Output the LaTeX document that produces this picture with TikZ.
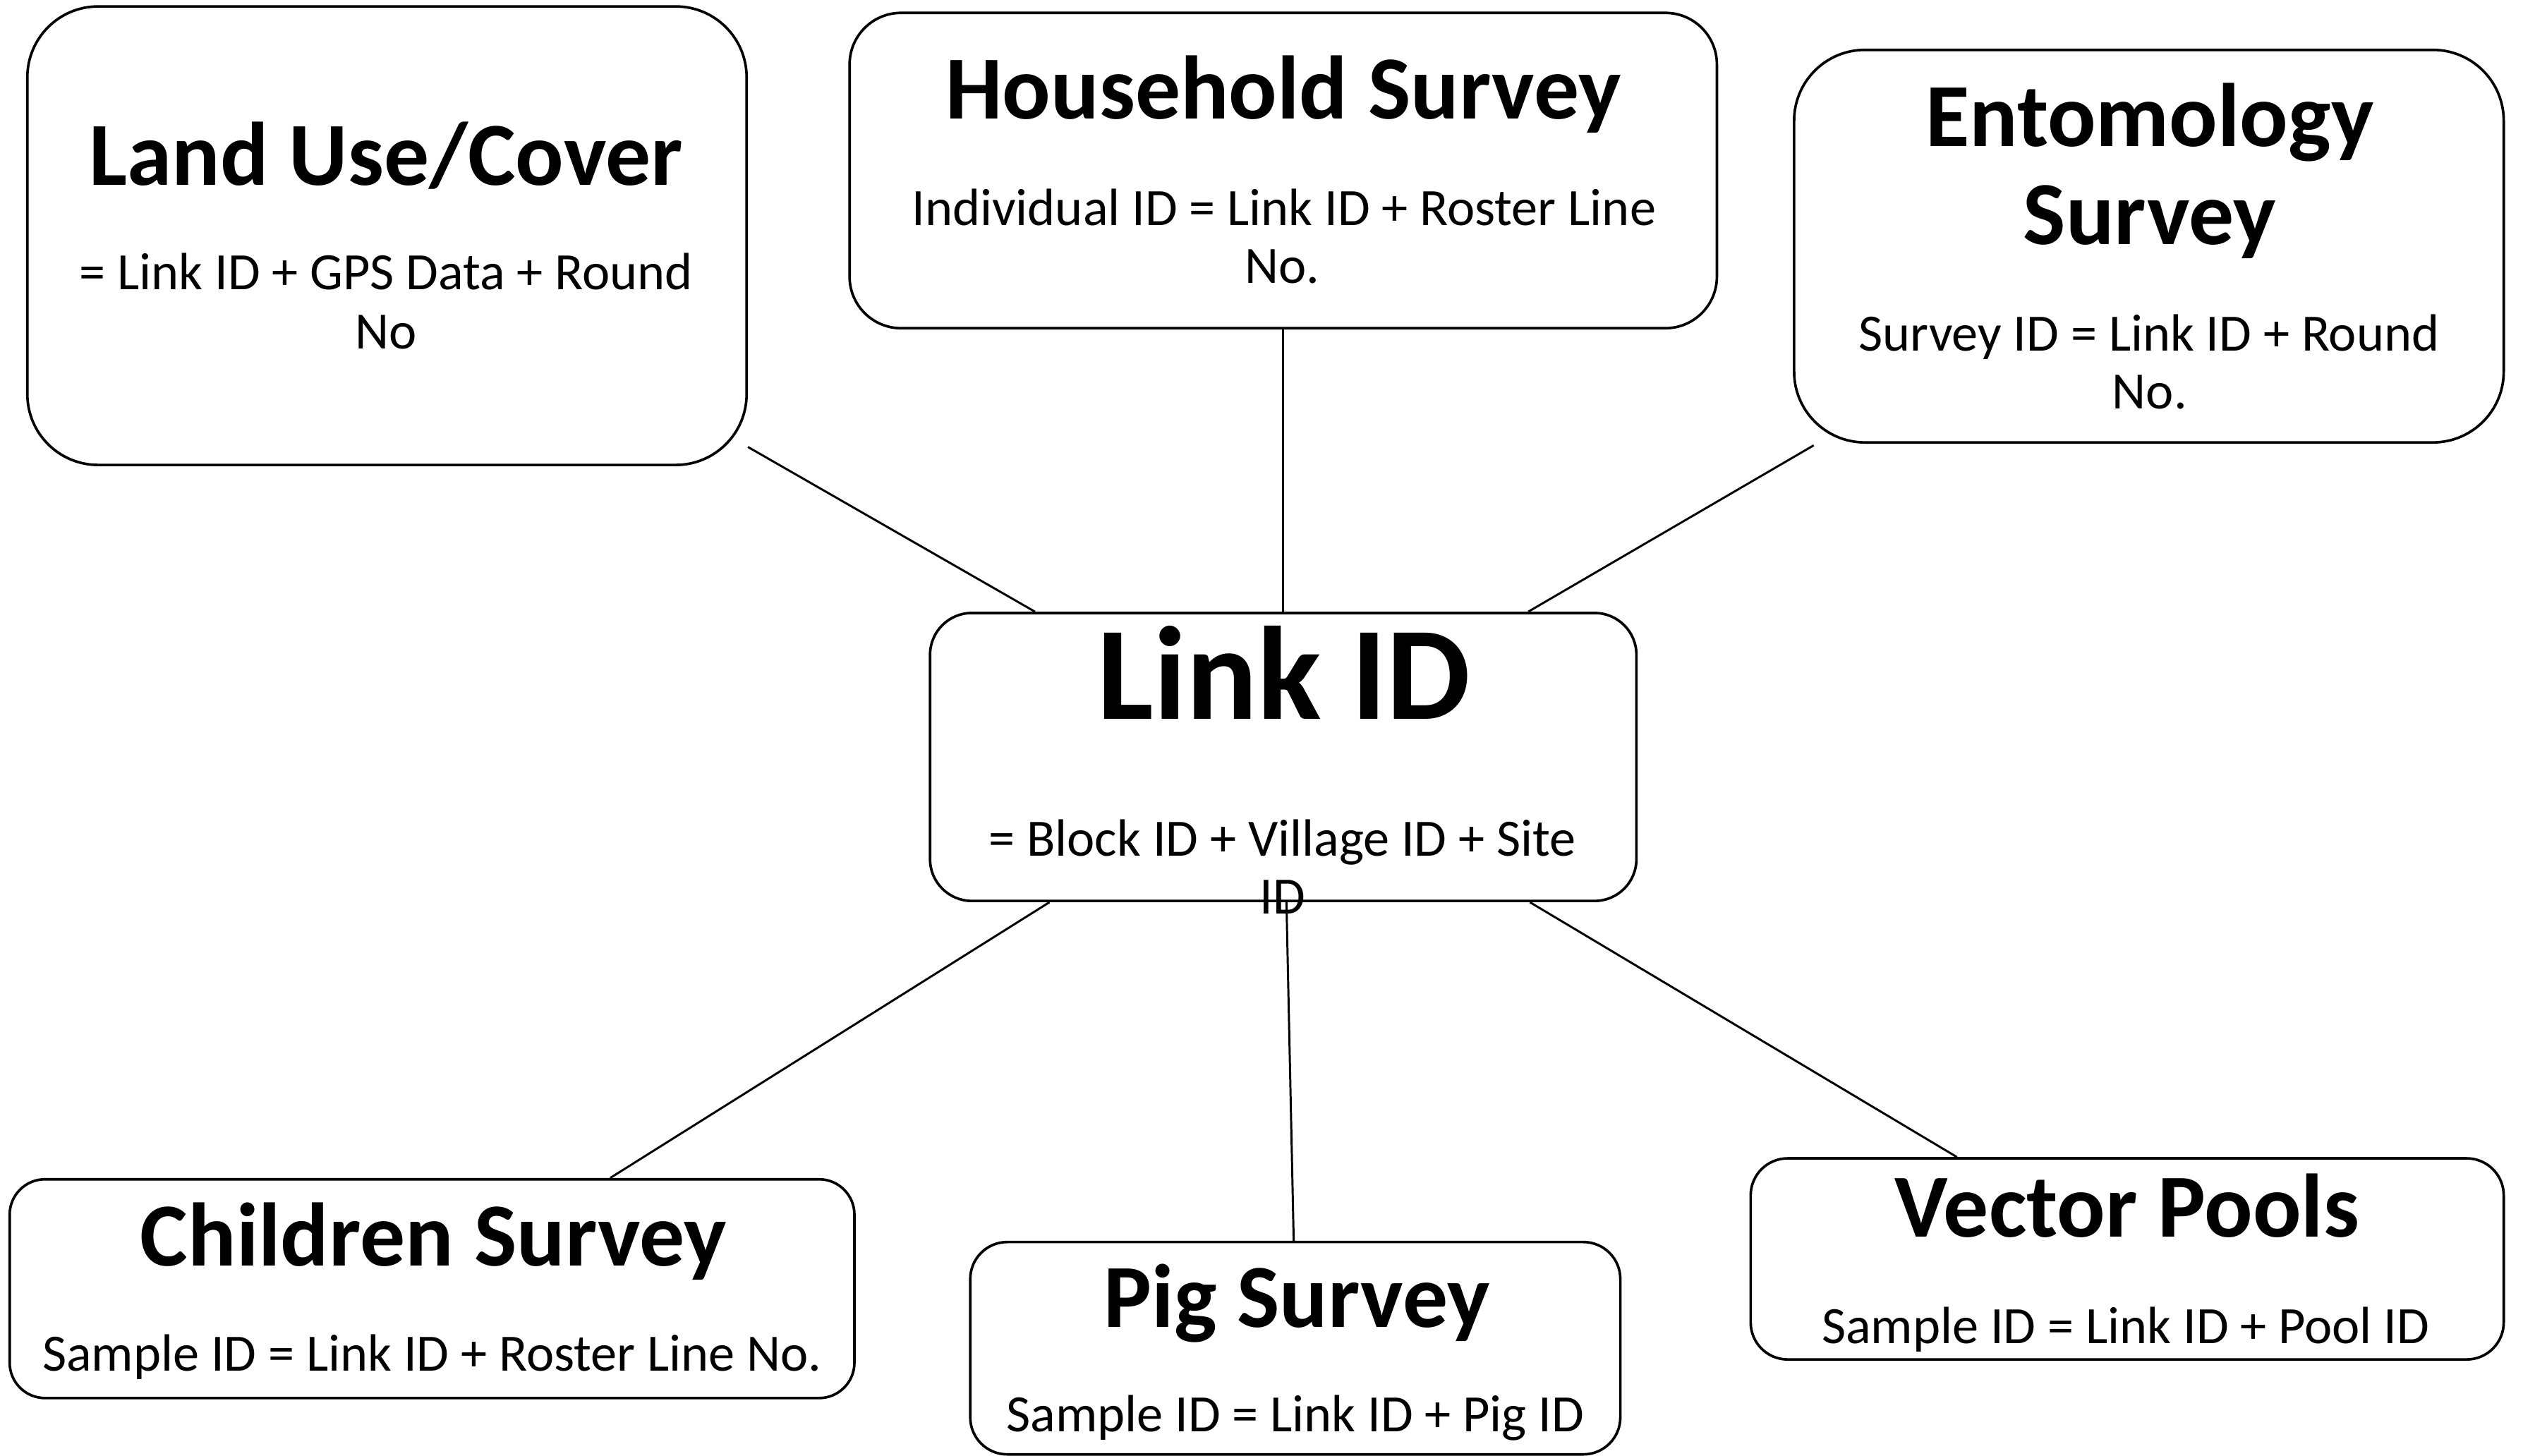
\documentclass[tikz,border=0pt]{standalone}
\usepackage{fontspec}
\setmainfont{Carlito}
\begin{document}
\begin{tikzpicture}[x=0.5pt,y=-0.5pt,
  box/.style={draw, line width=0.8pt, rounded corners=#1, inner sep=0pt},
  ttl/.style={font=\fontsize{28pt}{30pt}\bfseries\selectfont, anchor=base, inner sep=0pt},
  bigttl/.style={font=\fontsize{41.3pt}{44pt}\bfseries\selectfont, anchor=base, inner sep=0pt},
  sub/.style={font=\fontsize{16.3pt}{18pt}\selectfont, anchor=base, inner sep=0pt},
  conn/.style={draw, line width=0.65pt}]
\fill[white] (0,0) rectangle (1568,905);
\useasboundingbox (0,0) rectangle (1568,905);

% boxes
\node[box=22pt, minimum width=223.5pt, minimum height=142.5pt] (lu) at (240.5,146.5) {};
\node[box=16pt, minimum width=269.5pt, minimum height=98pt] (hh) at (797.5,106) {};
\node[box=22pt, minimum width=220.5pt, minimum height=122pt] (en) at (1335.5,153) {};
\node[box=13pt, minimum width=219.5pt, minimum height=89.5pt] (link) at (797.5,470.5) {};
\node[box=11pt, minimum width=262.5pt, minimum height=68pt] (ch) at (268.5,801) {};
\node[box=11.5pt, minimum width=202pt, minimum height=66pt] (pig) at (805,838) {};
\node[box=11.5pt, minimum width=234pt, minimum height=62.5pt] (vp) at (1322,782.5) {};

% texts
\node[ttl] (luT) at (240,115) {Land Use/Cover};
\node[sub] (luS1) at (240,180) {= Link ID + GPS Data + Round};
\node[sub] (luS2) at (240,217) {No};

\node[ttl] (hhT) at (797.5,74) {Household Survey};
\node[sub] (hhS1) at (798,140) {Individual ID = Link ID + Roster Line};
\node[sub] (hhS2) at (797,176) {No.};

\node[ttl] (enT1) at (1336,91) {Entomology};
\node[ttl] (enT2) at (1336,152) {Survey};
\node[sub] (enS1) at (1335.5,218) {Survey ID = Link ID + Round};
\node[sub] (enS2) at (1336,254) {No.};

\node[bigttl] (linkT) at (798,447) {Link ID};
\node[sub] (linkS1) at (797,532) {= Block ID + Village ID + Site};
\node[sub] (linkS2) at (797,568) {ID};

\node[ttl] (chT) at (269.5,787) {Children Survey};
\node[sub] (chS) at (268.5,852) {Sample ID = Link ID + Roster Line No.};

\node[ttl] (pigT) at (806,825) {Pig Survey};
\node[sub] (pigS) at (805,890) {Sample ID = Link ID + Pig ID};

\node[ttl] (vpT) at (1322,769) {Vector Pools};
\node[sub] (vpS) at (1321,835) {Sample ID = Link ID + Pool ID};

% connectors
\draw[conn] ([yshift=6pt]lu.south east) -- ([xshift=33pt]link.north west);
\draw[conn] (hh.south) -- (link.north);
\draw[conn] ([xshift=6.5pt,yshift=-0.5pt]en.south west) -- ([xshift=-34pt]link.north east);
\draw[conn] ([xshift=37.5pt]link.south west) -- ([xshift=187pt]ch.north west);
\draw[conn] ([xshift=1pt]link.south) -- ([xshift=-0.5pt]pig.north);
\draw[conn] ([xshift=-33.5pt]link.south east) -- ([xshift=64.5pt]vp.north west);
\end{tikzpicture}
\end{document}
